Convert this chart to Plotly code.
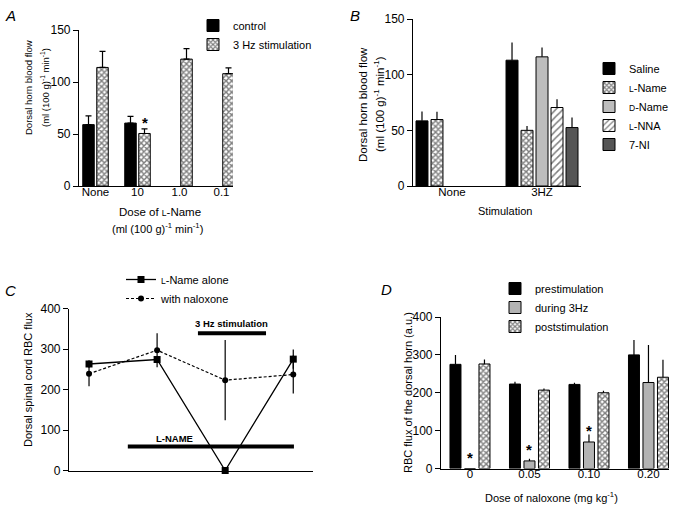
import plotly.graph_objects as go

FONT = "Liberation Sans, Arial, Helvetica, sans-serif"
W, H = 688, 506

# ---------------- data ----------------
# Panel A
a_categories = ["None", "10", "1.0", "0.1"]
a_control = [59, 60.5, None, None]
a_control_err = [8.5, 6.5, None, None]
a_stim = [114, 50.5, 122, 108]
a_stim_err = [15.5, 4.5, 10, 5.5]
a_stim_sig = ["", "*", "", ""]

# Panel B
b_categories = ["None", "3HZ"]
b_saline = [58.5, 113]
b_saline_err = [8.5, 16]
b_lname = [59.7, 50]
b_lname_err = [7, 4]
b_dname = [None, 116]
b_dname_err = [None, 8.5]
b_lnna = [None, 70.5]
b_lnna_err = [None, 7.5]
b_7ni = [None, 52.5]
b_7ni_err = [None, 9]

# Panel C
c_timepoints = [1, 2, 3, 4]
c_lname_alone = [263, 274, 0, 275]
c_lname_alone_err = [9, 0, 0, 24]
c_with_naloxone = [239, 297, 223, 237]
c_with_naloxone_err = [31, 42, 99, 47]
c_stim_period = [2.6, 3.6]
c_stim_level = 339
c_lname_period = [1.57, 4.01]
c_lname_level = 59

# Panel D
d_categories = ["0", "0.05", "0.10", "0.20"]
d_pre = [275, 223, 222, 300]
d_pre_err = [25, 6, 4.5, 39.5]
d_during = [0, 20, 70, 227]
d_during_err = [0, 5.5, 20, 99]
d_post = [276, 207, 200, 241]
d_post_err = [12, 4, 5, 46]
d_during_sig = ["*", "*", "*", ""]

# ---------------- helpers ----------------
def px(x):
    return x / W

def py(y):
    return 1 - y / H

def sc(letter, size=8.5):
    return '<span style="font-size:%spx">%s</span>' % (size, letter)

CHECK = dict(shape="x", fgcolor="black", bgcolor="white", size=4, solidity=0.6)
HATCH = dict(shape="/", fgcolor="black", bgcolor="white", size=5, solidity=0.3)

fig = go.Figure()


def add_group_bars(series, n_slots, group_w, bar_w, xa, ya, legend, cap):
    s = group_w / n_slots
    centers = []
    for k, (name, vals, errs, color, pattern) in enumerate(series):
        offset = -group_w / 2 + k * s + (s - bar_w) / 2
        centers.append(offset + bar_w / 2)
        marker = dict(color=color, line=dict(color="black", width=1))
        if pattern is not None:
            marker["pattern"] = pattern
        fig.add_trace(go.Bar(
            x=list(range(len(vals))), y=vals, name=name,
            width=bar_w, offset=offset, marker=marker,
            error_y=dict(type="data", array=errs, symmetric=False,
                         arrayminus=[0] * len(vals), color="black",
                         thickness=1.2, width=cap),
            xaxis=xa, yaxis=ya, legend=legend,
        ))
    return centers


# Panel A bars
a_centers = add_group_bars([
    ("control", a_control, a_control_err, "black", None),
    ("3 Hz stimulation", a_stim, a_stim_err, "white", CHECK),
], 2, 0.667, 0.274, "x", "y", "legend", 3)

# Panel B bars
add_group_bars([
    ("Saline", b_saline, b_saline_err, "black", None),
    (sc("L") + "-Name", b_lname, b_lname_err, "white", CHECK),
    (sc("D") + "-Name", b_dname, b_dname_err, "#bdbdbd", None),
    (sc("L") + "-NNA", b_lnna, b_lnna_err, "white", HATCH),
    ("7-NI", b_7ni, b_7ni_err, "#555555", None),
], 5, 0.833, 0.133, "x2", "y2", "legend2", 0)

# Panel C lines
fig.add_trace(go.Scatter(
    x=c_timepoints, y=c_lname_alone, name=sc("L") + "-Name alone",
    mode="lines+markers", line=dict(color="black", width=1.3),
    marker=dict(symbol="square", size=7, color="black"),
    error_y=dict(type="data", array=c_lname_alone_err, color="black", thickness=1.2, width=0),
    cliponaxis=False, xaxis="x3", yaxis="y3", legend="legend3",
))
fig.add_trace(go.Scatter(
    x=c_timepoints, y=c_with_naloxone, name="with naloxone",
    mode="lines+markers", line=dict(color="black", width=1.2, dash="3px,2px"),
    marker=dict(symbol="circle", size=6, color="black"),
    error_y=dict(type="data", array=c_with_naloxone_err, color="black", thickness=1.2, width=0),
    cliponaxis=False, xaxis="x3", yaxis="y3", legend="legend3",
))

# Panel D bars
d_centers = add_group_bars([
    ("prestimulation", d_pre, d_pre_err, "black", None),
    ("during 3Hz", d_during, d_during_err, "#b3b3b3", None),
    ("poststimulation", d_post, d_post_err, "white", CHECK),
], 3, 0.731, 0.185, "x4", "y4", "legend4", 0)

# ---------------- layout ----------------
ax_common = dict(showline=True, linecolor="black", linewidth=1.2, showgrid=False,
                 zeroline=False, automargin=False)
xtick = dict(ticks="", ticklabelstandoff=-5,
             tickfont=dict(family=FONT, size=11.5, color="black"))
ytick = dict(ticks="outside", ticklen=5, tickwidth=1.2, tickcolor="black",
             tickfont=dict(family=FONT, size=12, color="black"))

annotations = []


def ann(text, x, y, size=11, angle=0, **kw):
    d = dict(text=text, x=px(x), y=py(y), xref="paper", yref="paper",
             showarrow=False, xanchor="center", yanchor="middle", textangle=angle,
             font=dict(family=FONT, size=size, color="black"))
    d.update(kw)
    annotations.append(d)


# panel letters
ann("<i>A</i>", 10, 15, 15)
ann("<i>B</i>", 355, 15, 15)
ann("<i>C</i>", 10, 290, 15)
ann("<i>D</i>", 386, 289, 15)

unit = "(ml (100 g)<sup>-1</sup> min<sup>-1</sup>)"
# axis titles
ann("Dorsal horn blood flow", 28, 88, 9.5, -90)
ann(unit, 45, 88, 9.5, -90)
ann("Dose of " + sc("L") + "-Name", 160, 212, 11.5)
ann(unit, 157, 228, 11)
ann("Dorsal horn blood flow", 363, 105, 11.5, -90)
ann(unit, 379, 104, 11.5, -90)
ann("Stimulation", 505, 211, 11)
ann("Dorsal spinal cord RBC flux", 28, 380, 11, -90)
ann("RBC flux of the dorsal horn (a.u.)", 408, 393, 11, -90)
ann("Dose of naloxone (mg kg<sup>-1</sup>)", 551, 497, 11)

# significance stars
for i, s in enumerate(a_stim_sig):
    if s:
        annotations.append(dict(text="<b>" + s + "</b>", x=i + a_centers[1],
                                y=a_stim[i] + a_stim_err[i],
                                xref="x", yref="y", showarrow=False, yanchor="bottom",
                                yshift=-4, font=dict(family=FONT, size=15, color="black")))
for i, s in enumerate(d_during_sig):
    if s:
        annotations.append(dict(text="<b>" + s + "</b>", x=i + d_centers[1],
                                y=d_during[i],
                                xref="x4", yref="y4", showarrow=False, yanchor="bottom",
                                yshift=1, font=dict(family=FONT, size=15, color="black")))

# panel C period labels
annotations.append(dict(text="<b>3 Hz stimulation</b>", x=3.09, y=363, xref="x3", yref="y3",
                        showarrow=False, font=dict(family=FONT, size=9.5, color="black")))
annotations.append(dict(text="<b>L-NAME</b>", x=2.26, y=80, xref="x3", yref="y3",
                        showarrow=False, font=dict(family=FONT, size=9.5, color="black")))

shapes = [
    dict(type="line", xref="x3", yref="y3", x0=c_stim_period[0], x1=c_stim_period[1],
         y0=c_stim_level, y1=c_stim_level, line=dict(color="black", width=4)),
    dict(type="line", xref="x3", yref="y3", x0=c_lname_period[0], x1=c_lname_period[1],
         y0=c_lname_level, y1=c_lname_level, line=dict(color="black", width=4)),
]

legend_common = dict(xanchor="left", yanchor="top", bgcolor="rgba(0,0,0,0)",
                     font=dict(family=FONT, size=11, color="black"), itemwidth=30,
                     tracegroupgap=0, traceorder="normal")

fig.update_layout(
    width=W, height=H, margin=dict(l=0, r=0, t=0, b=0, autoexpand=False),
    paper_bgcolor="white", plot_bgcolor="white",
    barmode="overlay",
    font=dict(family=FONT, size=11, color="black"),
    xaxis=dict(domain=[px(79), px(233)], range=[-0.393, 3.274], tickvals=list(range(4)),
               ticktext=a_categories, anchor="y", **xtick, **ax_common),
    yaxis=dict(domain=[py(186), py(30)], range=[0, 150], tickvals=[0, 50, 100, 150],
               anchor="x", **ytick, **ax_common),
    xaxis2=dict(domain=[px(413), px(581)], range=[-0.433, 1.433], tickvals=list(range(2)),
                ticktext=b_categories, anchor="y2", **xtick, **ax_common),
    yaxis2=dict(domain=[py(186), py(19)], range=[0, 150], tickvals=[0, 50, 100, 150],
                anchor="x2", **ytick, **ax_common),
    xaxis3=dict(domain=[px(69), px(313)], range=[0.706, 4.29], showticklabels=False,
                anchor="y3", **xtick, **ax_common),
    yaxis3=dict(domain=[py(470.5), py(308.5)], range=[0, 400], tickvals=[0, 100, 200, 300, 400],
                anchor="x3", **ytick, **ax_common),
    xaxis4=dict(domain=[px(441), px(669)], range=[-0.487, 3.345], tickvals=list(range(4)),
                ticktext=d_categories, anchor="y4", **xtick, **ax_common),
    yaxis4=dict(domain=[py(468.5), py(317)], range=[0, 400], tickvals=[0, 100, 200, 300, 400],
                anchor="x4", **ytick, **ax_common),
    legend=dict(x=px(193), y=py(11), **legend_common),
    legend2=dict(x=px(589), y=py(54), **legend_common),
    legend3=dict(x=px(121), y=py(265), **legend_common),
    legend4=dict(x=px(495), y=py(274), **legend_common),
    annotations=annotations,
    shapes=shapes,
)

fig.write_html(
    "out.html",
    config={"displayModeBar": False},
    post_script="document.body.style.margin='0px';document.body.style.padding='0px';",
)
